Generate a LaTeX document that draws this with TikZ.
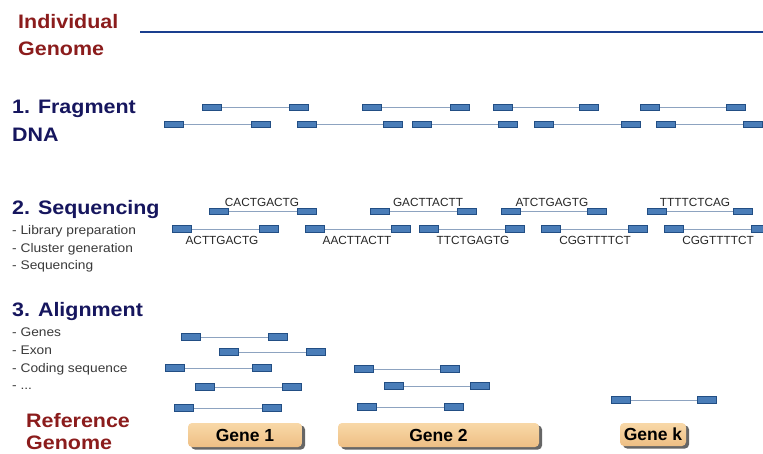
\documentclass[tikz,border=0pt]{standalone}
\usepackage{fontspec}
\setmainfont{Liberation Sans}
\newfontfamily\hf[FakeStretch=1.1]{Liberation Sans}
\usetikzlibrary{shadows}
\definecolor{hred}{HTML}{8B1C1C}
\definecolor{hnavy}{HTML}{16165E}
\definecolor{topline}{HTML}{1A3F8F}
\definecolor{boxfill}{HTML}{4A7DB8}
\definecolor{boxdraw}{HTML}{224E84}
\definecolor{linkcol}{HTML}{8DA3C0}
\definecolor{subgray}{HTML}{3A3A3A}
\definecolor{tantop}{HTML}{F8D8A8}
\definecolor{tanbot}{HTML}{EEBF84}
\tikzset{
  frbox/.style={rectangle, minimum width=19.5pt, minimum height=6.5pt, inner sep=0pt,
    fill=boxfill, draw=boxdraw, line width=0.9pt},
  link/.style={draw=linkcol, line width=0.9pt},
  redhead/.style={anchor=base west, inner sep=0pt, text=hred, font=\hf\bfseries\fontsize{19.5}{20}\selectfont},
  navyhead/.style={anchor=base west, inner sep=0pt, text=hnavy, font=\hf\bfseries\fontsize{19.5}{20}\selectfont},
  subitem/.style={anchor=base west, inner sep=0pt, text=subgray, font=\hf\fontsize{12.5}{13}\selectfont},
  seqlab/.style={anchor=base, inner sep=0pt, text=black!85, font=\fontsize{11.8}{12}\selectfont},
  genebox/.style={rectangle, rounded corners=4pt, top color=tantop, bottom color=tanbot,
    draw=none, inner sep=0pt, font=\bfseries\fontsize{17.5}{18}\selectfont,
    drop shadow={shadow xshift=3pt, shadow yshift=-2.5pt, fill=black!70, opacity=0.85}}
}
\newcommand\fragpair[4]{%
  \node[frbox] (#1a) at (#2+9.75,#4) {};
  \node[frbox] (#1b) at (#3+9.75,#4) {};
  \draw[link] (#1a) -- (#1b);}
\begin{document}
\begin{tikzpicture}[x=1pt,y=-1pt]
\useasboundingbox (0,0) rectangle (763,454);
\fill[white] (0,0) rectangle (763,454);
% headings
\node[redhead] (ind1) at (18,29) {Individual};
\node[redhead] (ind2) at (18,56) {Genome};
\coordinate (tl1) at (140,32);
\coordinate (tl2) at (763,32);
\draw[topline, line width=2pt] (tl1) -- (tl2);
\node[navyhead] (h1a) at (12,114) {1. Fragment};
\node[navyhead] (h1b) at (12,142) {DNA};
\node[navyhead] (h2) at (12,215) {2. Sequencing};
\node[subitem] (s21) at (12,235) {- Library preparation};
\node[subitem] (s22) at (12,252.5) {- Cluster generation};
\node[subitem] (s23) at (12,270) {- Sequencing};
\node[navyhead] (h3) at (12,316.5) {3. Alignment};
\node[subitem] (s31) at (12,337) {- Genes};
\node[subitem] (s32) at (12,354) {- Exon};
\node[subitem] (s33) at (12,372) {- Coding sequence};
\node[subitem] (s34) at (12,389) {- ...};
\node[redhead] (ref1) at (26,427) {Reference};
\node[redhead] (ref2) at (26,449) {Genome};
% row 1: fragments
\fragpair{fa}{202}{289}{107.5}
\fragpair{fb}{362}{450}{107.5}
\fragpair{fc}{493}{579}{107.5}
\fragpair{fd}{640}{726}{107.5}
\fragpair{fe}{164}{251}{124.5}
\fragpair{ff}{297}{383}{124.5}
\fragpair{fg}{412}{498}{124.5}
\fragpair{fh}{534}{621}{124.5}
\fragpair{fi}{656}{743}{124.5}
% row 2: sequencing
\fragpair{sa}{209}{297}{211.5}
\fragpair{sb}{370}{457}{211.5}
\fragpair{sc}{501}{587}{211.5}
\fragpair{sd}{647}{733}{211.5}
\fragpair{se}{172}{259}{229}
\fragpair{sf}{305}{391}{229}
\fragpair{sg}{419}{505}{229}
\fragpair{sh}{541}{628}{229}
\fragpair{si}{664}{751}{229}
\node[seqlab] (la) at (262,206.7) {CACTGACTG};
\node[seqlab] (lb) at (428,206.7) {GACTTACTT};
\node[seqlab] (lc) at (552,206.7) {ATCTGAGTG};
\node[seqlab] (ld) at (695,206.7) {TTTTCTCAG};
\node[seqlab] (le) at (222,245) {ACTTGACTG};
\node[seqlab] (lf) at (357,245) {AACTTACTT};
\node[seqlab] (lg) at (473,245) {TTCTGAGTG};
\node[seqlab] (lh) at (595,245) {CGGTTTTCT};
\node[seqlab] (li) at (718,245) {CGGTTTTCT};
% row 3: alignment
\fragpair{aa}{181}{268}{337}
\fragpair{ab}{219}{306}{352}
\fragpair{ac}{165}{252}{368}
\fragpair{ad}{354}{440}{369}
\fragpair{ae}{195}{282}{387}
\fragpair{af}{384}{470}{386}
\fragpair{ag}{174}{262}{408}
\fragpair{ah}{357}{444}{407}
\fragpair{ak}{611}{697}{400}
% genes
\node[genebox, minimum width=114pt, minimum height=24pt] (g1) at (245,435) {Gene 1};
\node[genebox, minimum width=201pt, minimum height=24pt] (g2) at (438.5,435) {Gene 2};
\node[genebox, minimum width=66pt, minimum height=23pt] (gk) at (653,434.5) {Gene k};
\end{tikzpicture}
\end{document}
